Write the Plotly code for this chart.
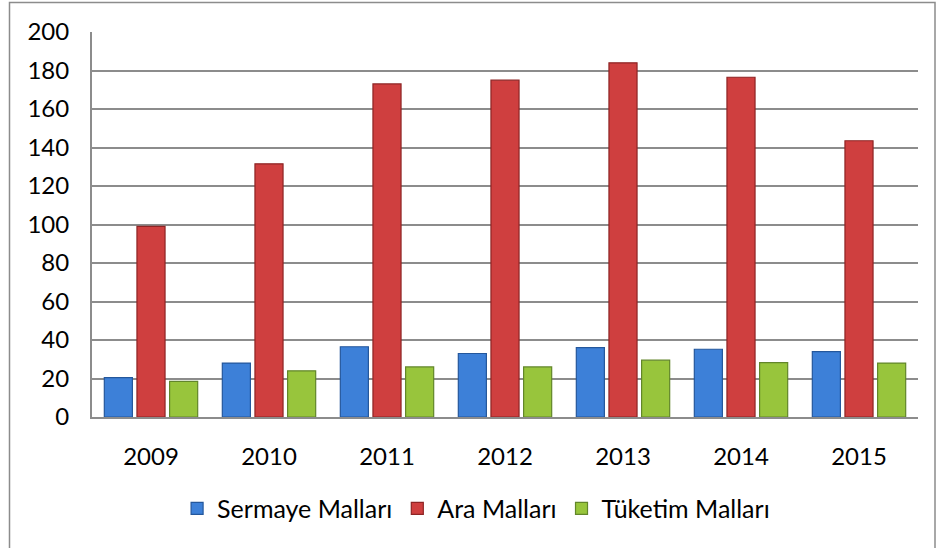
import plotly.graph_objects as go

years = ["2009", "2010", "2011", "2012", "2013", "2014", "2015"]
sermaye = [20.5, 28, 36.5, 33, 36, 35.2, 34]
ara = [99, 131.5, 173, 175, 184, 176.5, 143.5]
tuketim = [18.5, 24, 26, 26, 29.5, 28.2, 28]
series_names = ["Sermaye Malları", "Ara Malları", "Tüketim Malları"]
y_ticks = [0, 20, 40, 60, 80, 100, 120, 140, 160, 180, 200]

W, H = 938, 548
L, R, T, B = 92, 20, 32, 131
pw, ph = W - L - R, H - T - B

fills = ["#3d80d8", "#cf3f3f", "#98c53c"]
edges = ["#24579c", "#8e2424", "#62862a"]

fig = go.Figure()
for name, vals, fc, ec in zip(series_names, [sermaye, ara, tuketim], fills, edges):
    fig.add_trace(go.Bar(
        x=years, y=vals, name=name,
        marker=dict(color=fc, line=dict(color=ec, width=1.2)),
    ))

font = "Lato, Carlito, Calibri, sans-serif"
fig.update_layout(
    width=W, height=H,
    margin=dict(l=L, r=R, t=T, b=B, pad=0),
    paper_bgcolor="white", plot_bgcolor="white",
    barmode="group", bargap=0.17, bargroupgap=0.14,
    font=dict(family=font, size=24, color="#000000"),
    showlegend=True,
    legend=dict(orientation="h", x=0.465, xanchor="center", y=-0.238, yanchor="middle",
                font=dict(size=25), itemwidth=30, tracegroupgap=0),
    xaxis=dict(showgrid=False, showline=True, linecolor="#8c8c8c", linewidth=2,
               ticks="", tickfont=dict(size=24), ticklabelstandoff=17),
    yaxis=dict(range=[0, 200], tickvals=y_ticks, showgrid=True, gridcolor="#8c8c8c",
               gridwidth=1.5, showline=True, linecolor="#8c8c8c", linewidth=2,
               ticks="", tickfont=dict(size=24), ticklabelstandoff=16, zeroline=False),
    shapes=[dict(type="rect", xref="paper", yref="paper",
                 x0=(9.5 - L) / pw, x1=(935 - L) / pw,
                 y0=-(600 - H + B) / ph,
                 y1=(H - B - 2.5) / ph,
                 line=dict(color="#8c8c8c", width=1.5), layer="below")],
)

fig.write_html("out.html")
